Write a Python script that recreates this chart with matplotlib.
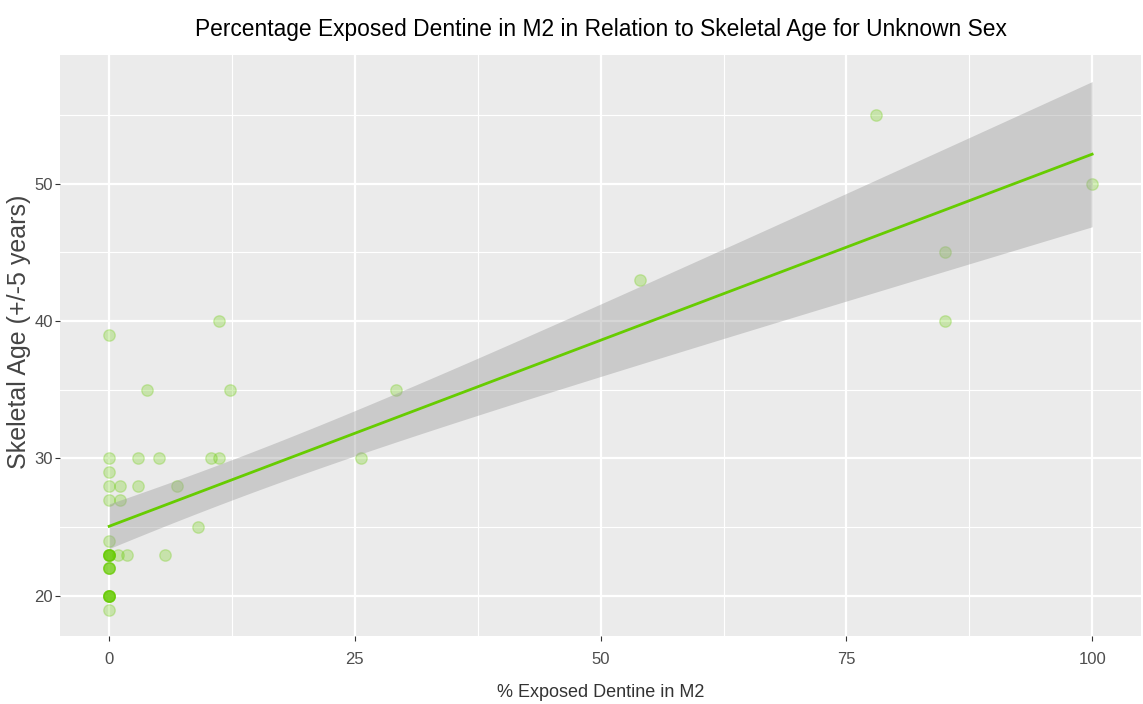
import numpy as np
import matplotlib.pyplot as plt

# ======== data ========
dentine = [0, 0, 0, 0, 0, 0,
           0, 0, 0, 0, 0, 0,
           0, 0, 0, 0,
           0, 0, 0, 0, 0, 0,
           0,
           1.1, 1.1, 0.9, 1.8, 2.9, 2.9, 3.8, 5.1, 5.7, 6.9, 9.0,
           10.4, 11.2, 11.2, 12.3, 25.6, 29.2, 54, 78, 85, 85, 100]
age = [39, 30, 29, 28, 27, 24,
       23, 23, 23, 23, 23, 23,
       22, 22, 22, 22,
       20, 20, 20, 20, 20, 20,
       19,
       28, 27, 23, 23, 30, 28, 35, 30, 23, 28, 25,
       30, 30, 40, 35, 30, 35, 43, 55, 45, 40, 50]

x_ticks = [0, 25, 50, 75, 100]
y_ticks = [20, 30, 40, 50]
x_minor = [12.5, 37.5, 62.5, 87.5]
y_minor = [25, 35, 45, 55]

title = "Percentage Exposed Dentine in M2 in Relation to Skeletal Age for Unknown Sex"
x_label = "% Exposed Dentine in M2"
y_label = "Skeletal Age (+/-5 years)"

GREEN = "#66CC00"

# ======== linear fit with 95% band (like geom_smooth(method='lm')) ========
x = np.array(dentine, dtype=float)
y = np.array(age, dtype=float)
n = len(x)
slope, intercept = np.polyfit(x, y, 1)
resid = y - (intercept + slope * x)
s = np.sqrt(np.sum(resid ** 2) / (n - 2))
sxx = np.sum((x - x.mean()) ** 2)

# t quantile (0.975) via Cornish-Fisher style expansion
df = n - 2
z = 1.959964
t = z + (z ** 3 + z) / (4 * df) + (5 * z ** 5 + 16 * z ** 3 + 3 * z) / (96 * df ** 2)

xs = np.linspace(x.min(), x.max(), 80)
ys = intercept + slope * xs
se = s * np.sqrt(1 / n + (xs - x.mean()) ** 2 / sxx)
lo, hi = ys - t * se, ys + t * se

# ======== plot ========
plt.rcParams['font.family'] = ['Liberation Sans', 'DejaVu Sans']
fig = plt.figure(figsize=(11.43, 7.04), dpi=100)
ax = fig.add_axes([0.0525, 0.0966, 0.946, 0.825])
ax.set_facecolor("#EBEBEB")

ax.scatter(x, y, s=68, color=GREEN, alpha=0.27, linewidths=1.0, zorder=3)
ax.fill_between(xs, lo, hi, color="#999999", alpha=0.4, linewidth=0, zorder=4)
ax.plot(xs, ys, color=GREEN, lw=2, zorder=5)

lo_all = min(y.min(), lo.min())
hi_all = max(y.max(), hi.max())
span = hi_all - lo_all
ax.set_xlim(-5, 105)
ax.set_ylim(lo_all - 0.05 * span, hi_all + 0.05 * span)

ax.set_xticks(x_ticks)
ax.set_yticks(y_ticks)
ax.set_xticks(x_minor, minor=True)
ax.set_yticks(y_minor, minor=True)
ax.grid(which="major", color="white", lw=1.6, zorder=0)
ax.grid(which="minor", color="white", lw=0.8, zorder=0)
ax.set_axisbelow(True)
for sp in ax.spines.values():
    sp.set_visible(False)
ax.tick_params(which="major", length=3.5, width=0.8, color="#333333",
               labelcolor="#4D4D4D", labelsize=12)
ax.tick_params(axis="x", which="major", pad=8)
ax.tick_params(axis="y", which="major", pad=1.5)
ax.tick_params(which="minor", length=0)

ax.set_title(title, fontsize=16.4, color="black", pad=14)
ax.set_xlabel(x_label, fontsize=13, color="#333333", labelpad=12)
ax.set_ylabel(y_label, fontsize=18, color="#444444")
ax.yaxis.set_label_coords(-0.027, 0.523)

fig.savefig("out.png", dpi=100)
